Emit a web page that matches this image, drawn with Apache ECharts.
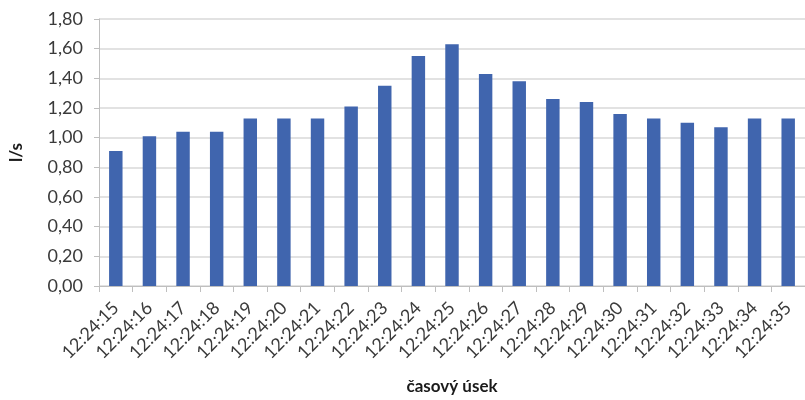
<!DOCTYPE html>
<html>
<head>
<meta charset="utf-8">
<script src="https://cdn.jsdelivr.net/npm/echarts@6/dist/echarts.min.js"></script>
<style>
  html, body { margin: 0; padding: 0; background: #fff; }
  #chart { width: 805px; height: 400px; }
</style>
</head>
<body>
<div id="chart"></div>
<script>
// Průtok v jednotlivých sekundách měření
const categories = [
  '12:24:15', '12:24:16', '12:24:17', '12:24:18', '12:24:19', '12:24:20', '12:24:21',
  '12:24:22', '12:24:23', '12:24:24', '12:24:25', '12:24:26', '12:24:27', '12:24:28',
  '12:24:29', '12:24:30', '12:24:31', '12:24:32', '12:24:33', '12:24:34', '12:24:35'
];
const flowValues = [
  0.91, 1.01, 1.04, 1.04, 1.13, 1.13, 1.13,
  1.21, 1.35, 1.55, 1.63, 1.43, 1.38, 1.26,
  1.24, 1.16, 1.13, 1.10, 1.07, 1.13, 1.13
];
const yTicks = { min: 0, max: 1.8, step: 0.2 };
const xTitle = 'časový úsek';
const yTitle = 'l/s';

const font = 'Lato, "Open Sans", sans-serif';
const textColor = '#3a3a3a';
const gridColor = '#d9d9d9';

const chart = echarts.init(document.getElementById('chart'), null, { renderer: 'canvas' });
chart.setOption({
  animation: false,
  backgroundColor: '#ffffff',
  grid: { left: 89, top: 19, bottom: 109, right: -10, containLabel: false },
  xAxis: {
    type: 'category',
    data: categories,
    name: xTitle,
    nameLocation: 'middle',
    nameGap: 92,
    nameTextStyle: { fontFamily: font, fontSize: 17, fontWeight: 'bold', color: '#1a1a1a' },
    axisLine: { show: true, lineStyle: { color: '#bfbfbf', width: 1 } },
    axisTick: { show: true, alignWithLabel: false, length: 6, lineStyle: { color: '#bfbfbf' } },
    axisLabel: {
      rotate: 45, margin: 19, interval: 0,
      fontFamily: font, fontSize: 18, color: textColor
    },
    splitLine: { show: false }
  },
  yAxis: {
    type: 'value',
    min: yTicks.min,
    max: yTicks.max,
    interval: yTicks.step,
    name: yTitle,
    nameLocation: 'middle',
    nameGap: 74,
    nameTextStyle: { fontFamily: font, fontSize: 17, fontWeight: 'bold', color: '#1a1a1a' },
    axisLine: { show: true, lineStyle: { color: '#bfbfbf', width: 1 } },
    axisTick: { show: true, length: 5, lineStyle: { color: '#bfbfbf' } },
    axisLabel: {
      margin: 16,
      fontFamily: font, fontSize: 18, color: textColor,
      formatter: v => v.toFixed(2).replace('.', ',')
    },
    splitLine: { show: true, lineStyle: { color: gridColor, width: 1.5 } }
  },
  series: [{
    type: 'bar',
    data: flowValues,
    barWidth: '40%',
    itemStyle: { color: '#4065ae' }
  }]
});
</script>
</body>
</html>
